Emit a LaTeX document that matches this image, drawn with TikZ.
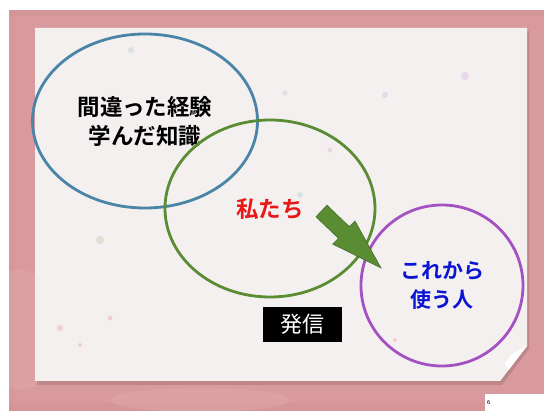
\documentclass[tikz,border=0pt]{standalone}
\usepackage{fontspec}
\newfontfamily\jp{Noto Sans CJK JP}
\newfontfamily\jpb{Noto Sans CJK JP Bold}
\usetikzlibrary{shapes.geometric}
\definecolor{pinkbg}{HTML}{D89A9E}
\definecolor{pinkdark}{HTML}{C98287}
\definecolor{paper}{HTML}{F4F0F0}
\definecolor{bluec}{HTML}{4A84A6}
\definecolor{greenc}{HTML}{5A8C34}
\definecolor{greendark}{HTML}{41702A}
\definecolor{purplec}{HTML}{A452C2}
\definecolor{redt}{HTML}{E81818}
\definecolor{bluet}{HTML}{0A14D2}
\tikzset{
  ring/.style={ellipse, draw, line width=2.8pt, inner sep=0pt},
  bigtext/.style={font=\jpb\fontsize{22.5}{29}\selectfont, align=center},
  splat/.style={opacity=0.15}
}
\begin{document}
\begin{tikzpicture}[x=1pt,y=-1pt]
\useasboundingbox (0,0) rectangle (544,411);
\fill[white] (0,0) rectangle (544,411);
% pink background
\fill[pinkbg] (9,10) rectangle (544,411);
\fill[pinkdark,opacity=0.15] (9,10) rectangle (544,16);
\fill[pinkdark,opacity=0.15] (9,403) rectangle (544,411);
\fill[pinkdark,opacity=0.12] (9,10) rectangle (15,411);
\fill[white,opacity=0.08] (20,330) ellipse (40 and 60);
\fill[white,opacity=0.08] (200,400) ellipse (90 and 12);
% paper shadow
\fill[black,opacity=0.12] (37,31) -- (529,31) -- (529,349) -- (502,385) -- (37,385) -- cycle;
% paper
\fill[paper] (35,28) -- (527,28) -- (527,346) -- (500,381) -- (35,381) -- cycle;
% curl
\fill[white] (527,346) .. controls (518,350) and (508,356) .. (505,364)
  .. controls (506,372) and (503,377) .. (500,381) -- cycle;
\fill[black,opacity=0.06] (505,364) .. controls (506,372) and (503,377) .. (500,381) -- (509,372) -- cycle;
% faint splatters
\fill[bluec,splat] (131,50) circle (3);
\fill[bluec,splat] (285,93) circle (2.5);
\fill[purplec,splat] (385,95) circle (3);
\fill[purplec,splat] (465,76) circle (4);
\fill[redt,splat] (60,328) circle (3);
\fill[redt,splat] (110,318) circle (2.5);
\fill[redt,splat] (80,345) circle (2);
\fill[bluec,splat] (300,195) circle (3);
\fill[greenc,splat] (100,240) circle (4);
\fill[purplec,splat] (330,150) circle (2.5);
\fill[redt,splat] (395,340) circle (2);
% circles with texts
\node[ring, draw=bluec, minimum width=225pt, minimum height=174pt,
      bigtext, text=black] (past) at (145,121)
      {間違った経験\\学んだ知識};
\node[ring, draw=greenc, minimum width=210pt, minimum height=177pt,
      bigtext, text=redt] (we) at (270,208.5) {私たち};
\node[ring, draw=purplec, minimum width=162pt, minimum height=161pt,
      bigtext, text=bluet, font=\jpb\fontsize{21}{29}\selectfont] (future) at (442,285.5) {これから\\使う人};
% block arrow
\filldraw[fill=greenc, draw=greendark, line width=0.6pt, line join=miter]
  (327,205.2) -- (349.4,226.7) -- (355,221) -- (381,268) -- (332.8,244.1)
  -- (338.4,238.3) -- (316,216.8) -- cycle;
% label box
\node[fill=black, text=white, font=\jp\fontsize{22}{24}\selectfont,
      minimum width=79pt, minimum height=35pt, inner sep=0pt] (send) at (302.5,324.5) {発信};
% page number
\node[fill=white, minimum width=59pt, minimum height=17pt, inner sep=0pt] (pgbox) at (514.5,402.5) {};
\node[font=\sffamily\fontsize{6}{7}\selectfont, anchor=west, inner sep=0pt] (pg) at (487,402.5) {6};
\end{tikzpicture}
\end{document}
